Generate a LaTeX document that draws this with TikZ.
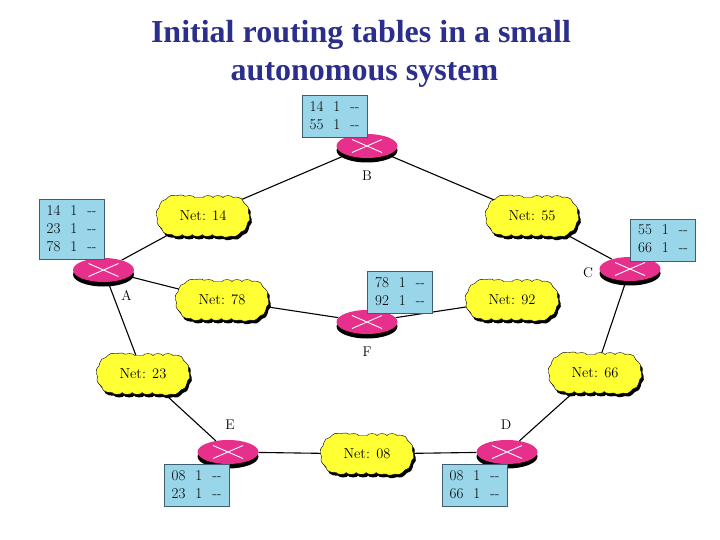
\documentclass[tikz,border=0pt]{standalone}
\usepackage{fontspec}
\newfontfamily\titlefont{Liberation Serif}
\usetikzlibrary{positioning,shapes.geometric,shapes.misc,shadows,backgrounds,decorations.pathmorphing}
\definecolor{routerpink}{HTML}{E6308C}
\definecolor{tableblue}{HTML}{99D6EA}
\definecolor{tableedge}{HTML}{3F5F70}
\definecolor{titleblue}{HTML}{2B2E8A}
\definecolor{netyellow}{HTML}{FFFF33}
\newcommand{\rtbl}[1]{{\setlength{\tabcolsep}{0pt}%
	\begin{tabular}{@{}l@{\hspace{10pt}}l@{\hspace{10pt}}l@{}}#1\end{tabular}}}
\newcommand{\nohop}{{-}{-}}
\tikzset{
	router/.style={ellipse, fill=routerpink, minimum width=61pt, minimum height=24pt, inner sep=0pt,
		drop shadow={shadow xshift=0pt, shadow yshift=-4.5pt, fill=black, opacity=1},
		path picture={
			\draw[white, line width=0.9pt]
				([shift={(-15,-6.5)}]path picture bounding box.center) -- ([shift={(15,6.5)}]path picture bounding box.center)
				([shift={(-15,6.5)}]path picture bounding box.center) -- ([shift={(15,-6.5)}]path picture bounding box.center);
		}},
	net/.style={rounded rectangle, draw=black, fill=netyellow,
		decorate, decoration={bumps, segment length=20pt, amplitude=1.9pt},
		minimum width=88pt, minimum height=37pt, inner sep=0pt, font=\fontsize{14.5}{16}\selectfont,
		drop shadow={shadow xshift=2pt, shadow yshift=-3pt, fill=black, opacity=1}},
	rtable/.style={draw=tableedge, line width=0.8pt, fill=tableblue, minimum width=65pt, inner xsep=0pt, inner ysep=3pt,
		font=\fontsize{15}{18}\selectfont},
	rlabel/.style={font=\fontsize{14}{16}\selectfont, inner sep=0pt},
	edge/.style={line width=1.1pt}
}
\begin{document}
\begin{tikzpicture}[x=1pt,y=-1pt]
	\useasboundingbox (0,0) rectangle (720,540);
	% Title
	\node[font=\titlefont\bfseries\fontsize{32}{38}\selectfont, text=titleblue, align=center] (Title) at (361,54)
		{Initial routing tables in a small\\\hspace*{7pt}autonomous system};
	% Routers
	\node[router] (B) at (367,146) {};
	\node[router] (A) at (103.5,270) {};
	\node[router] (F) at (367,322) {};
	\node[router] (C) at (630,269) {};
	\node[router] (E) at (228,452) {};
	\node[router] (D) at (507,452) {};
	% Networks
	\node[net] (Net14) at (203,216) {Net: 14};
	\node[net] (Net55) at (532,216) {Net: 55};
	\node[net] (Net78) at (222,300) {Net: 78};
	\node[net] (Net92) at (512,300) {Net: 92};
	\node[net] (Net23) at (143,374) {Net: 23};
	\node[net] (Net66) at (595,373) {Net: 66};
	\node[net] (Net08) at (367,454) {Net: 08};
	% Tables
	\node[rtable] (TableB) at (334.5,116.5) {\rtbl{14 & 1 & \nohop\\55 & 1 & \nohop}};
	\node[rtable] (TableA) at (71.5,229.5) {\rtbl{14 & 1 & \nohop\\23 & 1 & \nohop\\78 & 1 & \nohop}};
	\node[rtable] (TableF) at (400,292.5) {\rtbl{78 & 1 & \nohop\\92 & 1 & \nohop}};
	\node[rtable] (TableC) at (663,240) {\rtbl{55 & 1 & \nohop\\66 & 1 & \nohop}};
	\node[rtable] (TableE) at (196.5,485.5) {\rtbl{08 & 1 & \nohop\\23 & 1 & \nohop}};
	\node[rtable] (TableD) at (474.5,485.5) {\rtbl{08 & 1 & \nohop\\66 & 1 & \nohop}};
	% Router labels
	\node[rlabel, below=13pt of B] (LabelB) {B};
	\node[rlabel, below right=12pt and -4pt of A] (LabelA) {A};
	\node[rlabel, below=13pt of F] (LabelF) {F};
	\node[rlabel, left=6pt of C, yshift=-4pt] (LabelC) {C};
	\node[rlabel, above=10pt of E, xshift=2pt] (LabelE) {E};
	\node[rlabel, above=10pt of D, xshift=-1pt] (LabelD) {D};
	% Links
	\begin{scope}[on background layer]
		\draw[edge] (A) -- (Net14);
		\draw[edge] (Net14) -- (B);
		\draw[edge] (B) -- (Net55);
		\draw[edge] (Net55) -- (C);
		\draw[edge] (C) -- (Net66);
		\draw[edge] (Net66) -- (D);
		\draw[edge] (D) -- (Net08);
		\draw[edge] (Net08) -- (E);
		\draw[edge] (E) -- (Net23);
		\draw[edge] (Net23) -- (A);
		\draw[edge] (A) -- (Net78);
		\draw[edge] (Net78) -- (F);
		\draw[edge] (F) -- (Net92);
	\end{scope}
\end{tikzpicture}
\end{document}
